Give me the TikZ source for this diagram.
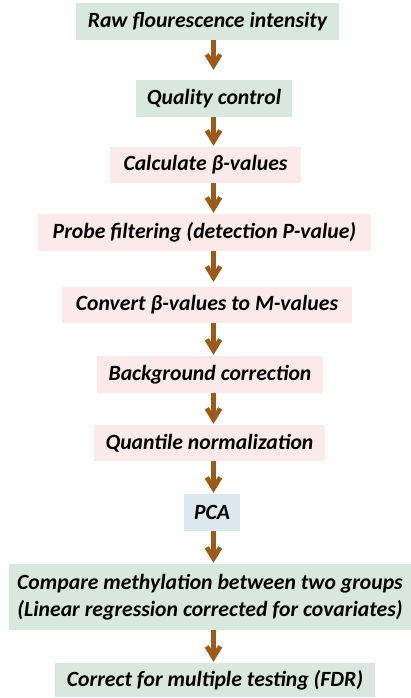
\documentclass[tikz,border=0pt]{standalone}
\usepackage{fontspec}
\setmainfont{Carlito}
\usetikzlibrary{arrows.meta}
\definecolor{boxgreen}{RGB}{216,231,223}
\definecolor{boxpink}{RGB}{252,233,233}
\definecolor{boxblue}{RGB}{219,233,239}
\definecolor{arrbrown}{RGB}{156,90,26}
\tikzset{
  stage/.style={inner sep=0pt, align=center, font=\fontsize{21.7}{27}\selectfont\bfseries\itshape, text=black},
  gbox/.style={stage, fill=boxgreen},
  pbox/.style={stage, fill=boxpink},
  bbox/.style={stage, fill=boxblue},
  flow/.style={draw=arrbrown, line width=4.6pt, shorten >=1pt,
    -{Straight Barb[length=11pt, width=13.5pt, line width=4.6pt]}}
}
\begin{document}
\begin{tikzpicture}[x=1pt, y=-1pt]
\useasboundingbox (0,0) rectangle (411,698);
\coordinate (ax) at (213.5,0);
\node[gbox, minimum width=263pt, minimum height=37pt] (raw) at (207.5,21.5) {Raw flourescence intensity};
\node[gbox, minimum width=156pt, minimum height=37pt] (qc) at (214,98.5) {Quality control};
\node[pbox, minimum width=191pt, minimum height=36pt] (beta) at (205.5,165) {Calculate β-values};
\node[pbox, minimum width=333pt, minimum height=37pt] (probe) at (204.5,232.5) {Probe filtering (detection P-value)};
\node[pbox, minimum width=290pt, minimum height=36pt] (conv) at (207,305) {Convert β-values to M-values};
\node[pbox, minimum width=226pt, minimum height=37pt] (bg) at (210,374.5) {Background correction};
\node[pbox, minimum width=231pt, minimum height=36pt] (qn) at (209.5,443) {Quantile normalization};
\node[bbox, minimum width=56pt, minimum height=37pt] (pca) at (212,512.5) {PCA};
\node[gbox, minimum width=402pt, minimum height=66pt] (cmp) at (210,597) {Compare methylation between two groups\\(Linear regression corrected for covariates)};
\node[gbox, minimum width=320pt, minimum height=34pt] (fdr) at (215,680) {Correct for multiple testing (FDR)};
\draw[flow, shorten >=10pt] (raw.south -| ax) -- (qc.north -| ax);
\draw[flow] (qc.south -| ax) -- (beta.north -| ax);
\draw[flow] (beta.south -| ax) -- (probe.north -| ax);
\draw[flow, shorten >=5pt] (probe.south -| ax) -- (conv.north -| ax);
\draw[flow] (conv.south -| ax) -- (bg.north -| ax);
\draw[flow] (bg.south -| ax) -- (qn.north -| ax);
\draw[flow] (qn.south -| ax) -- (pca.north -| ax);
\draw[flow] (pca.south -| ax) -- (cmp.north -| ax);
\draw[flow] (cmp.south -| ax) -- (fdr.north -| ax);
\end{tikzpicture}
\end{document}
